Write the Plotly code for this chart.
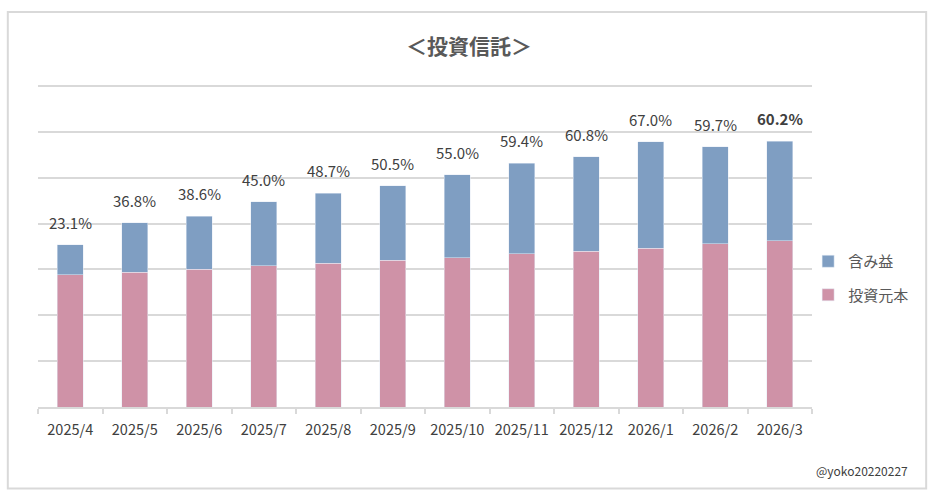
import plotly.graph_objects as go

months = ["2025/4", "2025/5", "2025/6", "2025/7", "2025/8", "2025/9",
          "2025/10", "2025/11", "2025/12", "2026/1", "2026/2", "2026/3"]
principal = [144, 147, 150, 154, 157, 160, 163, 167, 170, 173, 178, 181]
gain = [33, 54, 58, 70, 76, 81, 90, 99, 103, 116, 106, 109]
rate_labels = ["23.1%", "36.8%", "38.6%", "45.0%", "48.7%", "50.5%",
               "55.0%", "59.4%", "60.8%", "67.0%", "59.7%", "60.2%"]

FONT = "Noto Sans CJK JP, Meiryo, sans-serif"
BLUE = "#7F9EC2"
PINK = "#CF92A7"
GRID = "#D9D9D9"
TEXT = "#404040"

fig = go.Figure()
fig.add_trace(go.Bar(x=months, y=principal, name="投資元本", marker_color=PINK,
                     legendgroup="p", legendrank=2, hoverinfo="skip"))
fig.add_trace(go.Bar(x=months, y=gain, name="含み益", marker_color=BLUE,
                     legendgroup="g", legendrank=1, hoverinfo="skip"))

totals = [p + g for p, g in zip(principal, gain)]
for i, (m, t, lab) in enumerate(zip(months, totals, rate_labels)):
    last = i == len(months) - 1
    fig.add_annotation(x=m, y=t, text=f"<b>{lab}</b>" if last else lab,
                       showarrow=False, yanchor="bottom", yshift=10,
                       font=dict(family=FONT, size=15, color=TEXT))

PH = 330.0  # plot height in px
def py(px):
    return (407 - px) / PH

fig.add_annotation(text="@yoko20220227", xref="paper", yref="paper",
                   x=1.1266, y=py(470), xanchor="right", yanchor="middle",
                   showarrow=False, font=dict(family=FONT, size=12, color=TEXT))

fig.add_shape(type="rect", xref="paper", yref="paper",
              x0=-0.039, x1=1.1475, y0=py(488.5), y1=py(12),
              line=dict(color=GRID, width=2), fillcolor="rgba(0,0,0,0)", layer="below")

fig.update_layout(
    width=938, height=500,
    margin=dict(l=38, r=126, t=77, b=93),
    paper_bgcolor="white", plot_bgcolor="white",
    barmode="stack", bargap=0.6,
    font=dict(family=FONT, color=TEXT),
    title=dict(text="<b>＜投資信託＞</b>", x=0.5, xref="container", xanchor="center",
               y=0.906, yref="container", yanchor="middle",
               font=dict(family=FONT, size=21, color="#595959")),
    legend=dict(x=0.995, y=py(278), xanchor="left", yanchor="middle",
                traceorder="grouped", tracegroupgap=11,
                font=dict(family=FONT, size=15, color="#595959"),
                itemwidth=30, bgcolor="rgba(0,0,0,0)"),
    xaxis=dict(showline=True, linecolor=GRID, linewidth=1.5,
               ticks="outside", tickson="boundaries", ticklen=5, tickcolor=GRID,
               tickwidth=1.5, showgrid=False, tickangle=0, ticklabelstandoff=9,
               tickfont=dict(family=FONT, size=14.5, color=TEXT)),
    yaxis=dict(range=[0, 359.8], dtick=50, showticklabels=False,
               gridcolor=GRID, gridwidth=1.5, zeroline=False, fixedrange=True),
)

fig.write_html("out.html", config={"displayModeBar": False},
               post_script="document.body.style.margin='0';")
